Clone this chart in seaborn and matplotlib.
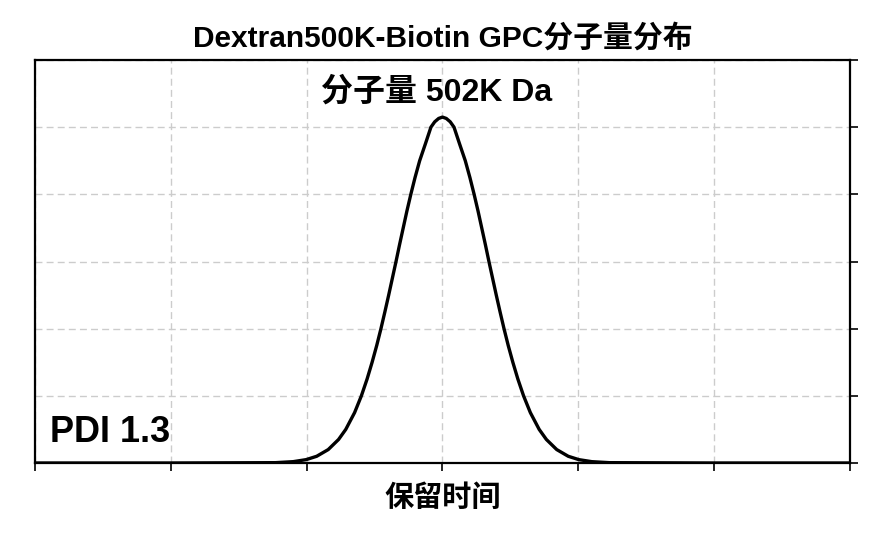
import numpy as np
import pandas as pd
import seaborn as sns
import matplotlib.pyplot as plt

# values (retention axis in grid units, signal normalised)
retention = [0.0, 1.0, 1.771, 1.901, 1.996, 2.074, 2.159, 2.235, 2.288, 2.353, 2.403, 2.445, 2.482,
             2.516, 2.547, 2.576, 2.604, 2.631, 2.658, 2.684, 2.711, 2.738, 2.767, 2.798, 2.832,
             2.874, 2.915, 2.943, 2.972, 3.000, 3.028, 3.057, 3.085, 3.126, 3.168, 3.202, 3.233,
             3.262, 3.289, 3.316, 3.342, 3.369, 3.396, 3.424, 3.453, 3.484, 3.518, 3.555, 3.597,
             3.647, 3.712, 3.765, 3.841, 3.926, 4.004, 4.099, 4.229, 5.0, 6.0]
signal = [0.0, 0.0, 0.001, 0.004, 0.01, 0.02, 0.04, 0.07, 0.1, 0.15, 0.2, 0.25, 0.3,
          0.35, 0.4, 0.45, 0.5, 0.55, 0.6, 0.65, 0.7, 0.75, 0.8, 0.85, 0.9,
          0.95, 1.0, 1.016, 1.026, 1.03, 1.026, 1.016, 1.0, 0.95, 0.9, 0.85, 0.8,
          0.75, 0.7, 0.65, 0.6, 0.55, 0.5, 0.45, 0.4, 0.35, 0.3, 0.25, 0.2,
          0.15, 0.1, 0.07, 0.04, 0.02, 0.01, 0.004, 0.001, 0.0, 0.0]

title = 'Dextran500K-Biotin GPC分子量分布'
peak_label = '分子量 502K Da'
pdi_label = 'PDI 1.3'
x_label = '保留时间'

df = pd.DataFrame({'retention': retention, 'signal': signal})

sns.set_theme(style='ticks')
plt.rcParams['font.family'] = ['Liberation Sans', 'Noto Sans CJK SC', 'DejaVu Sans']
plt.rcParams['font.weight'] = 'bold'
plt.rcParams['text.color'] = 'black'
plt.rcParams['axes.labelcolor'] = 'black'

fig = plt.figure(figsize=(8.83, 5.44), dpi=100)
ax = fig.add_axes([0.0396, 0.1489, 0.9230, 0.7408])

sns.lineplot(data=df, x='retention', y='signal', color='black', linewidth=2.4, ax=ax)

ax.set_xlim(0, 6)
ax.set_ylim(0, 1.2)
ax.set_xticks(np.arange(0, 7, 1))
ax.set_yticks(np.arange(0, 1.21, 0.2))
ax.grid(True, linestyle=(0, (5, 3)), color='#cccccc', linewidth=1)
ax.tick_params(axis='x', direction='out', length=6, width=1.2, color='black', labelbottom=False)
ax.tick_params(axis='y', direction='out', length=6, width=1.2, color='black', left=False, right=True,
               labelleft=False, labelright=False)
for s in ax.spines.values():
    s.set_visible(True)
    s.set_color('black')
    s.set_linewidth(1.6)

ax.set_title(title, fontsize=21.5, fontweight='bold', pad=10, color='black')
ax.set_xlabel(x_label, fontsize=21, fontweight='bold', labelpad=9, color='black')
ax.set_ylabel('')
ax.text(2.96, 1.104, peak_label, ha='center', va='center', fontsize=23, fontweight='bold')
ax.text(0.11, 0.092, pdi_label, ha='left', va='center', fontsize=26, fontweight='bold')

fig.savefig('out.png', dpi=100)
